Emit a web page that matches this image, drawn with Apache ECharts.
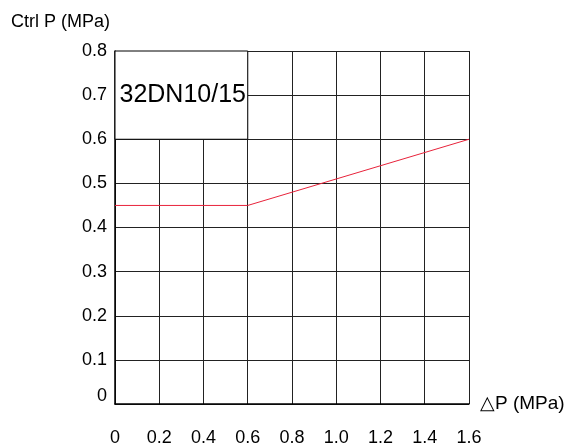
<!DOCTYPE html>
<html>
<head>
<meta charset="utf-8">
<script src="https://cdn.jsdelivr.net/npm/echarts@6/dist/echarts.min.js"></script>
<style>
html, body { margin: 0; padding: 0; background: #fff; }
#main { width: 568px; height: 447px; }
</style>
</head>
<body>
<div id="main"></div>
<script>
// data
var xTicks = [0, 0.2, 0.4, 0.6, 0.8, 1.0, 1.2, 1.4, 1.6];
var yTicks = [0, 0.1, 0.2, 0.3, 0.4, 0.5, 0.6, 0.7, 0.8];
var dpValues = [0, 0.6, 1.6];
var ctrlValues = [0.45, 0.45, 0.6];
var modelName = '32DN10/15';
var boxX = [0, 0.6];
var boxY = [0.6, 0.8];

var font = '"Liberation Sans", Arial, sans-serif';

var points = [];
for (var i = 0; i < dpValues.length; i++) {
    points.push([dpValues[i], ctrlValues[i]]);
}

var myChart = echarts.init(document.getElementById('main'));

var option = {
    animation: false,
    backgroundColor: '#fff',
    grid: { left: 115, right: 99, top: 51, bottom: 43, outerBoundsMode: 'none' },
    xAxis: {
        type: 'value',
        min: xTicks[0],
        max: xTicks[xTicks.length - 1],
        interval: 0.2,
        name: '△P (MPa)',
        nameLocation: 'end',
        nameGap: 11,
        nameTextStyle: { fontFamily: font, fontSize: 19, color: '#000', verticalAlign: 'middle', padding: [0, 0, 10, 0] },
        axisLine: { lineStyle: { color: '#000', width: 1.5 } },
        axisTick: { show: false },
        axisLabel: {
            margin: 25,
            fontFamily: font, fontSize: 18, color: '#000',
            formatter: function (v) {
                return v === 0 ? '0' : v.toFixed(1);
            }
        },
        splitLine: { show: true, lineStyle: { color: '#222', width: 1 } }
    },
    yAxis: {
        type: 'value',
        min: yTicks[0],
        max: yTicks[yTicks.length - 1],
        interval: 0.1,
        name: 'Ctrl P (MPa)',
        nameLocation: 'end',
        nameGap: 29,
        nameTextStyle: { fontFamily: font, fontSize: 18, color: '#000', align: 'right', verticalAlign: 'middle', padding: [0, 5, 0, 0] },
        axisLine: { show: true, lineStyle: { color: '#000', width: 1.5 } },
        axisTick: { show: false },
        axisLabel: {
            margin: 8,
            fontFamily: font, fontSize: 18, color: '#000',
            formatter: function (v) {
                return v === 0 ? '{z|0}' : v.toFixed(1);
            },
            rich: {
                z: { fontFamily: font, fontSize: 18, color: '#000', padding: [0, 0, 16, 0] }
            }
        },
        splitLine: { show: true, lineStyle: { color: '#222', width: 1 } }
    },
    series: [{
        type: 'line',
        data: points,
        symbol: 'none',
        lineStyle: { color: '#e8233b', width: 1 },
        markArea: {
            silent: true,
            itemStyle: { color: '#fff', borderColor: '#000', borderWidth: 1 },
            label: {
                show: true,
                position: 'insideLeft',
                distance: 5,
                fontFamily: font, fontSize: 25, color: '#000'
            },
            data: [[
                { name: modelName, coord: [boxX[0], boxY[0]] },
                { coord: [boxX[1], boxY[1]] }
            ]]
        }
    }]
};

myChart.setOption(option);
</script>
</body>
</html>
